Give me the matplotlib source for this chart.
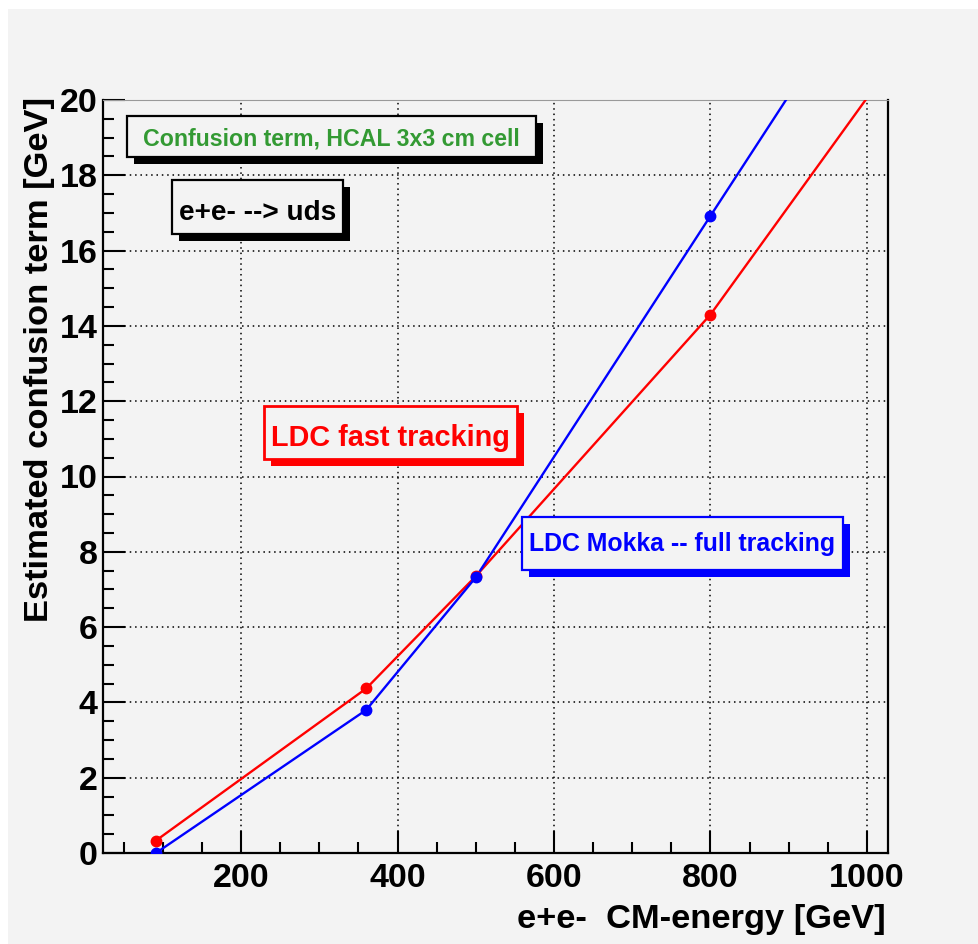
import numpy as np
import matplotlib
matplotlib.use("Agg")
import matplotlib.pyplot as plt
from matplotlib.patches import Rectangle
from matplotlib.ticker import MultipleLocator

plt.rcParams['font.family'] = ['Liberation Sans', 'DejaVu Sans']
plt.rcParams['font.weight'] = 'bold'

# CM energies [GeV]; the 1000 GeV entry is the extrapolated end of each curve
energy = [91.2, 360, 500, 800, 1000]
fast_tracking = [0.33, 4.37, 7.35, 14.30, 20.05]
full_tracking = [0.00, 3.80, 7.32, 16.92, 23.30]
n_measured = 4

x_ticks = [200, 400, 600, 800, 1000]
y_ticks = [0, 2, 4, 6, 8, 10, 12, 14, 16, 18, 20]

BG = '#f3f3f3'
GREEN = '#339a33'

W, H = 979, 944
fig = plt.figure(figsize=(W / 100, H / 100), dpi=100)
fig.patch.set_facecolor('white')
fig.patches.append(Rectangle((8 / W, 0), 1 - 8 / W, (H - 9) / H,
                             transform=fig.transFigure, facecolor=BG,
                             edgecolor='none', zorder=-10))

# frame: x 103..888 px, y 100..853 px
ax = fig.add_axes([103 / W, (H - 853) / H, (888 - 103) / W, (853 - 100) / H])
ax.set_facecolor(BG)
ax.set_xlim(23.5, 1027)
ax.set_ylim(0, 20)

ax.plot(energy, fast_tracking, color='red', lw=1.7, zorder=3)
ax.plot(energy, full_tracking, color='blue', lw=1.7, zorder=3)
ax.plot(energy[:n_measured], fast_tracking[:n_measured], 'o', color='red', ms=7.5, zorder=4)
ax.plot(energy[:n_measured], full_tracking[:n_measured], 'o', color='blue', ms=7.5, zorder=4)

ax.set_xticks(x_ticks)
ax.set_yticks(y_ticks)
ax.xaxis.set_minor_locator(MultipleLocator(50))
ax.yaxis.set_minor_locator(MultipleLocator(0.5))
ax.tick_params(which='both', direction='in', width=1.5, colors='black',
               top=False, right=False)
ax.tick_params(which='major', length=16, labelsize=24.5)
ax.tick_params(which='minor', length=8)
ax.tick_params(axis='x', pad=7)
ax.tick_params(axis='y', pad=4)
for lab in ax.get_xticklabels() + ax.get_yticklabels():
    lab.set_fontweight('bold')

ax.grid(True, which='major', color='black', linestyle=(0, (1, 2.5)), linewidth=1.1)
for side in ('left', 'bottom', 'right'):
    ax.spines[side].set_linewidth(1.6)
ax.spines['top'].set_linewidth(0.8)
ax.spines['top'].set_color('#999999')

# overlay in pixel coordinates for titles and text boxes
ov = fig.add_axes([0, 0, 1, 1], zorder=5)
ov.set_xlim(0, W)
ov.set_ylim(H, 0)
ov.axis('off')
ov.patch.set_alpha(0)

ov.text(886, 928, 'e+e-  CM-energy [GeV]', ha='right', va='baseline',
        fontsize=24.8, fontweight='bold')
ov.text(40, 97, 'Estimated confusion term [GeV]', ha='center', va='top',
        rotation=90, fontsize=24.8, fontweight='bold')


def pave(x0, y0, x1, y1, text, color, edge, shadow, size, baseline, lw=1.6):
    ov.add_patch(Rectangle((x0 + 7, y0 + 7), x1 - x0, y1 - y0,
                           facecolor=shadow, edgecolor='none'))
    ov.add_patch(Rectangle((x0, y0), x1 - x0, y1 - y0,
                           facecolor=BG, edgecolor=edge, linewidth=lw))
    ov.text((x0 + x1) / 2, baseline, text, ha='center', va='baseline',
            color=color, fontsize=size, fontweight='bold')


pave(127, 116, 536, 157, 'Confusion term, HCAL 3x3 cm cell', GREEN, 'black', 'black', 16.7, 145.7)
pave(172, 180, 343, 234, 'e+e- --> uds', 'black', 'black', 'black', 20.2, 220)
pave(264, 406, 517, 459, 'LDC fast tracking', 'red', 'red', 'red', 20.8, 445.7, lw=2)
pave(522, 517, 843, 570, 'LDC Mokka -- full tracking', 'blue', 'blue', 'blue', 17.9, 550.7)

fig.savefig('out.png', dpi=100, facecolor=fig.get_facecolor())
